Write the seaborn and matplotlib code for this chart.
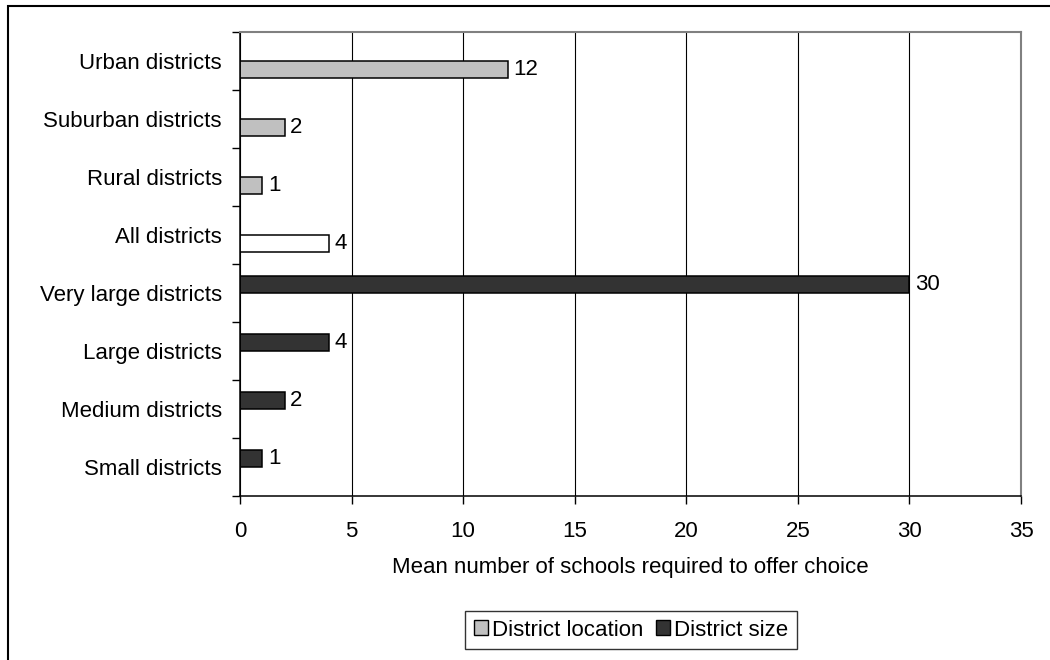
import matplotlib
matplotlib.use("Agg")
import matplotlib.pyplot as plt
import numpy as np
import pandas as pd
import seaborn as sns
from matplotlib.patches import Rectangle

""" Data """
categories = [
    "Urban districts",
    "Suburban districts",
    "Rural districts",
    "All districts",
    "Very large districts",
    "Large districts",
    "Medium districts",
    "Small districts",
]
values = [12, 2, 1, 4, 30, 4, 2, 1]
groups = ["District location"] * 4 + ["District size"] * 4
highlight = "All districts"  # drawn white
x_ticks = [0, 5, 10, 15, 20, 25, 30, 35]
x_label = "Mean number of schools required to offer choice"

""" Style """
sns.set_style("white")
plt.rcParams["font.family"] = ["Liberation Sans", "DejaVu Sans"]
plt.rcParams["text.color"] = "black"
plt.rcParams["axes.labelcolor"] = "black"
plt.rcParams["xtick.color"] = "black"
plt.rcParams["ytick.color"] = "black"
font_size = 16
colors = {"District location": "#c0c0c0", "District size": "#333333"}

df = pd.DataFrame({"category": categories, "value": values, "group": groups})

fig = plt.figure(figsize=(10.5, 6.6), dpi=100)
ax = fig.add_axes([240 / 1050, 1 - 496 / 660, (1021 - 240) / 1050, (496 - 32) / 660])

sns.barplot(
    data=df,
    y="category",
    x="value",
    hue="group",
    hue_order=["District size", "District location"],
    order=categories,
    palette=colors,
    orient="h",
    width=0.6,
    dodge=True,
    edgecolor="black",
    linewidth=1.1,
    legend=False,
    ax=ax,
)

# white bar for "All districts"
idx = categories.index(highlight)
for bar in ax.patches:
    yc = bar.get_y() + bar.get_height() / 2
    if abs(yc - idx) < 0.4 and bar.get_width() > 0:
        bar.set_facecolor("white")

for cont in ax.containers:
    ax.bar_label(cont, fmt="%g", padding=4, fontsize=font_size)

# axes
ax.set_xlim(0, 35)
ax.set_xticks(x_ticks)
ax.set_ylim(len(categories) - 0.5, -0.5)
ax.set_yticks(range(len(categories)))
ax.set_yticklabels(categories)
ax.set_yticks(np.arange(-0.5, len(categories), 1), minor=True)
ax.tick_params(axis="y", which="major", length=0, pad=13, labelsize=font_size)
ax.tick_params(axis="y", which="minor", length=6, width=1, color="black", left=True)
ax.tick_params(axis="x", length=6, width=1, color="black", bottom=True, pad=12,
               labelsize=font_size)
ax.set_ylabel("")
ax.set_xlabel(x_label, fontsize=font_size, labelpad=11)
ax.grid(axis="x", color="black", linewidth=0.8)
ax.set_axisbelow(True)
for side in ["left", "bottom"]:
    ax.spines[side].set_color("black")
    ax.spines[side].set_linewidth(1.1)
for side in ["top", "right"]:
    ax.spines[side].set_color("#808080")
    ax.spines[side].set_linewidth(1.5)

# legend
handles = [
    Rectangle((0, 0), 1, 1, facecolor=colors["District location"], edgecolor="black"),
    Rectangle((0, 0), 1, 1, facecolor=colors["District size"], edgecolor="black"),
]
leg = ax.legend(
    handles,
    ["District location", "District size"],
    loc="center",
    bbox_to_anchor=(631 / 1050, 1 - 630 / 660),
    bbox_transform=fig.transFigure,
    ncol=2,
    frameon=True,
    fancybox=False,
    edgecolor="black",
    fontsize=font_size,
    handlelength=0.62,
    handleheight=0.62,
    handletextpad=0.2,
    columnspacing=0.55,
    borderpad=0.4,
    borderaxespad=0,
)
leg.get_frame().set_linewidth(1.0)

# outer frame (cut off at right and bottom)
fig.patches.append(
    Rectangle((8 / 1050, -0.1), 1.2, 1.1 - 6 / 660, transform=fig.transFigure,
              fill=False, edgecolor="black", linewidth=1.5)
)

plt.savefig("out.png", dpi=100)
